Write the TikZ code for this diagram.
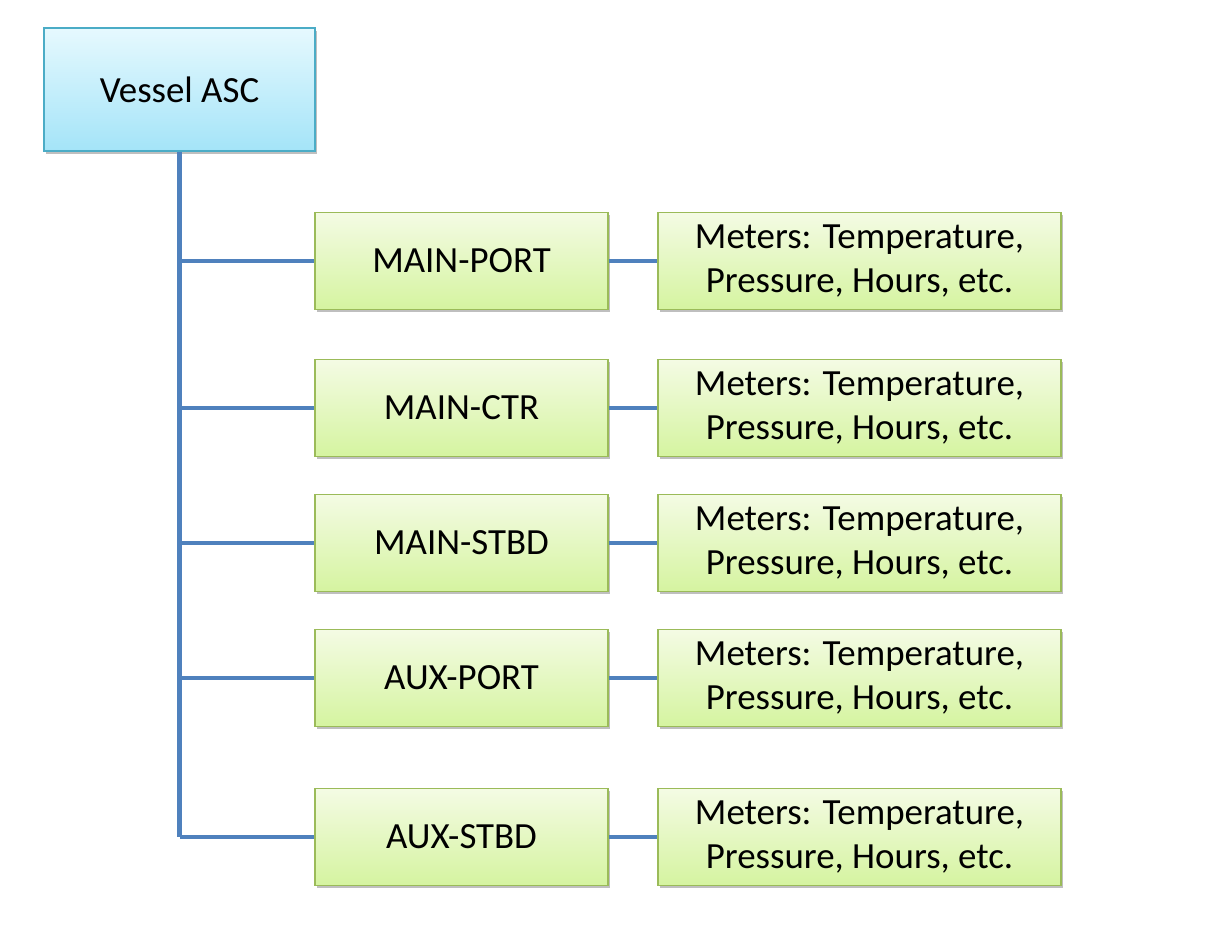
\documentclass[tikz,border=0pt]{standalone}
\usepackage{fontspec}
\setmainfont{Carlito}
\usetikzlibrary{shadows}
\definecolor{lineblue}{HTML}{4F81BD}
\definecolor{headedge}{HTML}{4BACC6}
\definecolor{headtop}{HTML}{E6F9FE}
\definecolor{headbot}{HTML}{A4E4F8}
\definecolor{leafedge}{HTML}{9BBB59}
\definecolor{leaftop}{HTML}{F4FBE4}
\definecolor{leafbot}{HTML}{D5F4A0}
\tikzset{
  boxshadow/.style={drop shadow={shadow xshift=1.2pt, shadow yshift=-1.5pt, opacity=0.25, fill=black}},
  headbox/.style={draw=headedge, line width=1.1pt, top color=headtop, bottom color=headbot, boxshadow,
    minimum width=5.42cm, minimum height=2.46cm, inner sep=0pt},
  enginebox/.style={draw=leafedge, line width=1.1pt, top color=leaftop, bottom color=leafbot, boxshadow,
    minimum width=5.86cm, minimum height=1.94cm, inner sep=0pt},
  meterbox/.style={enginebox, minimum width=8.06cm, align=center},
  link/.style={draw=lineblue, line width=3pt},
  branch/.style={draw=lineblue, line width=2.3pt}
}
\begin{document}
\begin{tikzpicture}[x=0.02cm, y=-0.02cm, font=\fontsize{21}{25.5}\selectfont]
		%%%%% START %%%%%
		\useasboundingbox (0, 0) rectangle (1207, 935);
		
		\node[headbox] (vessel) at (179.5, 89.5) {Vessel ASC};
		
		\node[enginebox] (mainport) at (461.5, 261) {MAIN-PORT};
		\node[enginebox] (mainctr) at (461.5, 408) {MAIN-CTR};
		\node[enginebox] (mainstbd) at (461.5, 543) {MAIN-STBD};
		\node[enginebox] (auxport) at (461.5, 678) {AUX-PORT};
		\node[enginebox] (auxstbd) at (461.5, 837) {AUX-STBD};
		
		\node[meterbox] (mportmeters) at (859.5, 261) {Meters: Temperature,\\Pressure, Hours, etc.};
		\node[meterbox] (mctrmeters) at (859.5, 408) {Meters: Temperature,\\Pressure, Hours, etc.};
		\node[meterbox] (mstbdmeters) at (859.5, 543) {Meters: Temperature,\\Pressure, Hours, etc.};
		\node[meterbox] (aportmeters) at (859.5, 678) {Meters: Temperature,\\Pressure, Hours, etc.};
		\node[meterbox] (astbdmeters) at (859.5, 837) {Meters: Temperature,\\Pressure, Hours, etc.};
		
		% trunk and branches
		\draw[link] (vessel.south) -- (vessel.south |- auxstbd.west);
		\draw[branch] (vessel.south |- mainport.west) -- (mainport.west);
		\draw[branch] (vessel.south |- mainctr.west) -- (mainctr.west);
		\draw[branch] (vessel.south |- mainstbd.west) -- (mainstbd.west);
		\draw[branch] (vessel.south |- auxport.west) -- (auxport.west);
		\draw[branch] (vessel.south |- auxstbd.west) -- (auxstbd.west);
		
		\draw[branch] (mainport.east) -- (mportmeters.west);
		\draw[branch] (mainctr.east) -- (mctrmeters.west);
		\draw[branch] (mainstbd.east) -- (mstbdmeters.west);
		\draw[branch] (auxport.east) -- (aportmeters.west);
		\draw[branch] (auxstbd.east) -- (astbdmeters.west);
		
		%%%%% END %%%%%
	\end{tikzpicture}
\end{document}
